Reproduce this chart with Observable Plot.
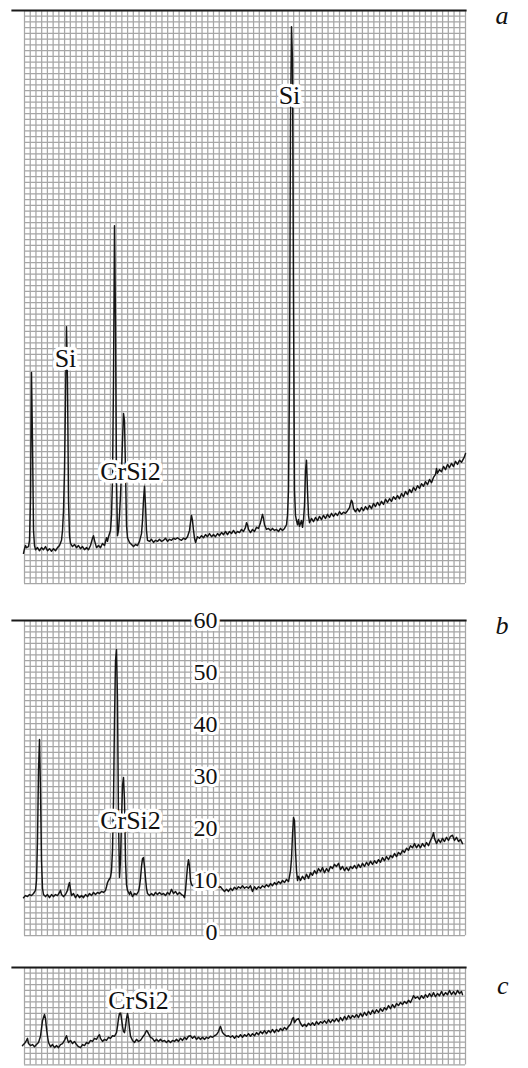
<!DOCTYPE html>
<html>
<head>
<meta charset="utf-8">
<script src="https://cdn.jsdelivr.net/npm/d3@7"></script>
<script src="https://cdn.jsdelivr.net/npm/@observablehq/plot@0.6"></script>
<style>
  html, body { margin: 0; padding: 0; background: #fff; }
  #wrap { position: relative; width: 528px; height: 1068px; overflow: hidden; }
  #wrap svg { position: absolute; left: 0; }
</style>
</head>
<body>
<div id="wrap"></div>
<script>
// x: channel (scan position along the recording, arbitrary units), value: intensity
const traceA = [[-1,5.8],[0,6.7],[1,7.3],[2,6.9],[4,7.1],[5,8.3],[6,16.0],[7,40.6],[8,27.5],[9,10.2],[10,7.3],[11,6.5],[13,6.9],[15,6.3],[17,6.9],[19,6.5],[21,7.1],[23,6.3],[25,6.7],[27,6.2],[29,6.7],[31,6.3],[33,6.9],[35,7.3],[37,8.3],[38,10.2],[39,14.0],[40,21.7],[41,35.2],[42,49.4],[43,39.0],[44,16.0],[45,9.2],[46,7.7],[48,7.1],[50,7.5],[52,6.9],[54,7.3],[56,6.7],[58,7.1],[60,6.5],[62,6.9],[64,6.5],[66,7.3],[68,8.7],[69,9.2],[70,8.3],[72,6.9],[74,7.3],[76,6.9],[78,7.7],[80,7.3],[82,8.8],[83,8.1],[84,9.0],[86,10.2],[87,13.1],[88,19.8],[89,39.0],[90,68.8],[91,50.6],[92,19.8],[93,9.2],[94,10.2],[95,13.1],[96,16.9],[97,21.7],[98,27.5],[99,32.7],[100,31.3],[101,21.7],[102,11.2],[103,8.8],[105,7.9],[107,7.5],[109,7.1],[111,7.5],[113,7.3],[115,8.1],[117,9.6],[118,12.1],[119,16.0],[120,18.7],[121,15.0],[122,10.2],[123,8.3],[125,8.1],[127,8.5],[129,7.9],[131,8.3],[133,8.1],[135,8.5],[137,8.1],[139,8.3],[141,8.7],[143,8.1],[145,8.5],[147,8.3],[149,8.7],[151,8.5],[153,8.8],[155,8.5],[157,8.3],[159,8.7],[161,8.5],[163,9.0],[165,10.2],[166,11.7],[167,13.1],[168,12.1],[169,10.2],[170,8.7],[171,7.9],[173,9.0],[175,8.7],[177,9.2],[179,8.8],[181,9.4],[183,9.0],[185,9.6],[187,9.0],[189,9.4],[191,9.0],[193,9.6],[195,9.2],[197,9.8],[199,9.4],[201,10.0],[203,9.4],[205,10.0],[207,9.6],[209,10.2],[211,9.6],[213,10.0],[215,9.8],[217,10.4],[219,10.0],[221,10.8],[222,11.7],[223,11.3],[224,10.4],[226,9.8],[228,10.4],[230,10.0],[232,10.8],[234,10.6],[236,11.7],[238,13.3],[239,12.5],[240,11.3],[242,10.4],[244,10.6],[246,10.2],[248,10.6],[250,10.2],[252,10.4],[254,10.0],[256,10.6],[258,10.2],[260,10.6],[262,11.3],[263,13.1],[264,17.9],[265,39.0],[266,89.0],[267,107.1],[268,100.6],[269,54.4],[270,17.9],[271,13.1],[272,12.1],[273,11.3],[274,12.3],[275,11.0],[277,12.1],[278,10.8],[279,12.3],[280,15.0],[281,21.7],[282,23.7],[283,17.9],[284,13.1],[285,11.7],[287,12.5],[289,11.9],[291,12.7],[293,12.1],[295,12.9],[297,12.3],[299,13.1],[301,12.5],[303,13.3],[305,12.7],[307,13.5],[309,12.9],[311,13.5],[313,13.1],[315,13.8],[317,13.3],[319,13.7],[321,13.5],[323,14.0],[325,14.6],[326,15.4],[327,16.0],[328,15.6],[329,14.4],[331,13.8],[333,14.4],[335,13.8],[337,14.6],[339,14.0],[341,14.8],[343,14.2],[345,15.0],[347,14.4],[349,15.4],[351,14.8],[353,15.6],[355,15.0],[357,15.8],[359,15.2],[361,16.2],[363,15.6],[365,16.3],[367,15.8],[369,16.7],[371,16.2],[373,16.9],[375,16.3],[377,17.3],[379,16.7],[381,17.7],[383,17.1],[385,18.1],[387,17.5],[389,18.5],[391,17.9],[393,18.8],[395,18.3],[397,19.2],[399,18.7],[401,19.6],[403,19.0],[405,20.0],[407,19.4],[409,20.4],[411,21.0],[412,22.1],[413,21.2],[415,21.9],[417,21.5],[419,22.5],[421,21.9],[423,22.9],[425,22.3],[427,23.1],[429,22.5],[431,23.5],[433,22.9],[435,23.7],[437,23.3],[439,24.0],[440,24.4],[441,25.0]];

const traceB = [[-1,6.7],[1,7.1],[3,6.9],[5,7.3],[7,7.1],[9,7.5],[11,8.1],[12,10.0],[13,17.7],[14,31.2],[15,37.1],[16,27.3],[17,13.8],[18,8.5],[19,7.3],[21,6.9],[23,7.3],[25,6.7],[27,7.3],[29,6.9],[31,7.3],[33,7.1],[35,7.7],[36,8.1],[37,7.3],[39,6.9],[41,7.3],[43,8.1],[44,9.0],[45,9.6],[46,8.3],[47,7.1],[49,7.5],[51,6.7],[53,7.3],[55,6.7],[57,7.1],[59,6.7],[61,7.3],[63,6.9],[65,7.5],[67,7.1],[69,7.7],[71,7.3],[73,7.7],[75,7.5],[77,7.9],[79,7.7],[81,8.1],[82,8.8],[83,9.6],[84,10.0],[86,10.6],[87,11.9],[88,15.8],[89,25.4],[90,40.8],[91,52.3],[92,54.4],[93,44.6],[94,21.5],[95,10.6],[96,13.8],[97,21.5],[98,28.3],[99,29.8],[100,25.4],[101,13.8],[102,9.2],[103,8.1],[105,7.3],[106,7.9],[108,6.9],[110,7.5],[112,7.3],[114,7.9],[115,8.8],[116,10.4],[117,12.7],[118,14.2],[119,14.4],[120,12.7],[121,10.4],[122,8.5],[123,7.5],[125,7.1],[127,7.5],[129,7.1],[131,7.7],[133,7.3],[135,7.7],[137,7.3],[139,7.5],[141,7.1],[143,7.7],[145,7.3],[147,8.3],[149,7.5],[151,7.9],[153,7.3],[155,7.7],[157,7.3],[159,7.1],[160,6.7],[161,8.1],[162,10.4],[163,12.7],[164,14.0],[165,12.7],[166,10.0],[167,9.2],[170,8.7],[174,8.8],[178,8.5],[182,8.8],[186,8.7],[190,9.0],[194,8.7],[196,8.8],[198,8.3],[200,7.9],[202,8.3],[204,7.9],[206,8.5],[208,8.1],[210,8.7],[212,8.3],[214,8.8],[216,8.5],[218,9.0],[220,8.5],[222,8.8],[224,8.5],[226,9.0],[228,7.9],[230,8.8],[232,8.3],[234,8.8],[236,8.5],[238,9.0],[240,8.7],[242,9.2],[244,8.8],[246,9.4],[248,9.0],[250,9.6],[252,9.2],[254,9.8],[256,9.4],[258,10.0],[260,9.6],[262,10.2],[264,9.8],[265,10.8],[266,11.9],[267,14.2],[268,18.7],[269,22.1],[270,21.5],[271,15.8],[272,11.9],[273,10.0],[274,10.8],[276,10.0],[278,10.8],[280,10.2],[282,11.2],[284,10.4],[286,11.5],[288,11.0],[290,11.9],[292,11.3],[294,12.3],[296,11.7],[298,12.5],[300,11.5],[302,12.3],[304,11.7],[306,12.7],[308,12.3],[310,13.1],[312,12.7],[314,13.3],[316,12.1],[318,12.7],[320,11.9],[322,12.5],[324,11.9],[326,12.7],[328,12.3],[330,12.9],[332,12.3],[334,13.1],[336,12.5],[338,13.3],[340,12.7],[342,13.5],[344,12.9],[346,13.7],[348,13.1],[350,13.8],[352,13.3],[354,14.0],[356,13.5],[358,14.4],[360,13.8],[362,14.6],[364,14.0],[366,14.8],[368,14.4],[370,15.2],[372,14.6],[374,15.4],[376,15.0],[378,15.8],[380,15.4],[382,16.2],[384,15.8],[386,16.7],[388,16.3],[390,17.1],[392,16.3],[394,16.9],[396,16.3],[398,17.1],[400,16.5],[402,17.3],[404,16.7],[406,17.7],[408,18.5],[409,19.2],[410,18.1],[412,17.1],[414,17.9],[416,17.3],[418,18.1],[420,17.5],[422,18.3],[424,17.7],[426,18.5],[428,18.7],[430,17.7],[432,18.3],[434,17.5],[436,17.9],[438,17.1]];

const traceC = [[-2,4.4],[0,4.8],[2,5.4],[3,5.8],[4,4.8],[6,4.4],[8,4.6],[10,4.2],[12,4.6],[14,5.0],[16,6.2],[17,7.7],[18,9.2],[20,10.4],[21,9.6],[22,7.7],[23,6.2],[24,5.0],[26,4.2],[28,4.6],[30,4.0],[32,4.4],[34,4.0],[36,4.6],[38,4.8],[40,5.4],[42,6.3],[43,5.6],[44,5.0],[46,5.4],[48,4.8],[50,5.2],[52,4.6],[54,4.2],[56,4.0],[58,4.6],[60,4.4],[62,5.0],[64,4.8],[66,5.4],[68,5.2],[70,5.8],[72,5.6],[74,6.3],[75,6.5],[76,5.8],[78,5.2],[80,5.6],[82,5.4],[84,6.0],[86,5.8],[88,6.3],[90,6.2],[92,6.9],[93,8.1],[94,9.6],[95,10.6],[96,10.8],[97,9.6],[98,8.1],[99,7.1],[100,6.9],[101,8.1],[102,9.6],[103,10.6],[104,9.6],[105,7.7],[106,6.2],[108,5.4],[110,5.0],[112,5.6],[114,5.2],[116,5.4],[118,6.0],[120,6.5],[122,7.3],[123,7.1],[124,6.7],[126,6.0],[128,5.8],[130,5.2],[132,5.6],[134,5.2],[136,5.6],[138,5.2],[140,5.4],[142,5.0],[144,5.4],[146,5.0],[148,5.4],[150,5.2],[152,5.6],[154,5.2],[156,5.8],[158,5.4],[160,6.0],[162,5.6],[164,6.2],[166,6.3],[168,5.8],[170,6.2],[172,5.6],[174,6.0],[176,5.6],[178,6.0],[180,5.6],[182,6.0],[184,5.8],[186,6.2],[188,6.0],[190,6.3],[192,6.5],[194,7.1],[195,7.7],[196,8.1],[197,7.5],[198,6.9],[200,6.5],[202,6.2],[204,6.3],[206,6.0],[208,6.3],[210,5.8],[212,6.3],[214,6.0],[216,6.5],[218,6.0],[220,6.5],[222,6.2],[224,6.7],[226,6.2],[228,6.7],[230,6.3],[232,6.9],[234,6.5],[236,7.1],[238,6.7],[240,7.3],[242,6.7],[244,7.3],[246,6.9],[248,7.5],[250,6.9],[252,7.5],[254,7.1],[256,7.7],[258,7.3],[260,7.9],[262,7.5],[264,8.1],[266,8.5],[268,9.6],[269,9.8],[270,8.8],[272,9.4],[274,9.6],[276,8.7],[278,8.1],[280,8.5],[282,8.1],[284,8.7],[286,8.3],[288,8.8],[290,8.3],[292,9.0],[294,8.5],[296,9.0],[298,8.7],[300,9.2],[302,8.7],[304,9.4],[306,8.8],[308,9.4],[310,9.0],[312,9.6],[314,9.0],[316,9.8],[318,9.2],[320,10.0],[322,9.4],[324,10.2],[326,9.6],[328,10.2],[330,9.8],[332,10.4],[334,9.8],[336,10.6],[338,10.0],[340,10.8],[342,10.2],[344,11.0],[346,10.4],[348,11.2],[350,10.6],[352,11.3],[354,10.8],[356,11.5],[358,11.0],[360,11.7],[362,11.3],[364,12.1],[366,11.5],[368,12.3],[370,11.7],[372,12.5],[374,12.1],[376,12.7],[378,12.3],[380,12.9],[382,12.5],[384,13.1],[386,12.7],[388,13.5],[389,14.0],[391,13.5],[393,13.8],[395,13.3],[397,14.0],[399,13.5],[401,14.2],[403,13.7],[405,14.4],[407,13.8],[409,14.6],[411,13.8],[413,14.4],[415,14.0],[417,14.8],[419,14.0],[421,14.6],[423,14.2],[425,15.0],[427,14.2],[429,14.8],[431,14.2],[433,15.0],[435,14.4],[437,14.8],[438,14.2]];

// peak annotations (label, channel, intensity at label centre)
const labelsA = [
  {text: "Si", x: 41, y: 43.3},
  {text: "CrSi2", x: 106, y: 21.5},
  {text: "Si", x: 265, y: 93.8}
];
const labelsB = [{text: "CrSi2", x: 106, y: 21.5}];
const labelsC = [{text: "CrSi2", x: 114, y: 13.1}];

// y tick labels of panel b
const ticksB = [0, 10, 20, 30, 40, 50, 60];
const panelNames = ["a", "b", "c"];

// chart-paper grid: 77 columns across the recording, 5.73 px cells
const chanMax = 441;
const cols = 77;
const cell = chanMax / cols;         // in channel units
const unitsPerCell = 1.102;          // intensity units per paper cell
const xGrid = d3.range(cols + 1).map(i => i * cell);

const serif = "'Liberation Serif', 'Times New Roman', Times, serif";
const gridStroke = "#a6a6a6";

function panel({trace, labels, name, yTop, yGrid, height, marginTop, marginBottom, top, nameDy, ticks}) {
  const yMin = d3.min(yGrid), yMax = d3.max(yGrid);
  const marks = [
    Plot.ruleX(xGrid, {y1: yMin, y2: yMax, stroke: gridStroke, strokeWidth: 1.25}),
    Plot.ruleY(yGrid, {x1: 0, x2: chanMax, stroke: gridStroke, strokeWidth: 1.25}),
    Plot.frame({anchor: "top", stroke: "#1a1a1a", strokeWidth: 2.2}),
    Plot.line(trace, {x: d => d[0], y: d => d[1], stroke: "#141414", strokeWidth: 1.45, strokeLinejoin: "round"}),
    Plot.text(labels, {x: "x", y: "y", text: "text", fontSize: 26, fontFamily: serif, fill: "#111",
      stroke: "white", strokeWidth: 7, paintOrder: "stroke", strokeLinejoin: "round"}),
    Plot.text([name], {text: d => d, frameAnchor: "top-right", dx: 43, dy: nameDy, lineAnchor: "bottom",
      fontSize: 26, fontStyle: "italic", fontFamily: serif, fill: "#111"})
  ];
  if (ticks) {
    marks.push(Plot.text(ticks, {y: d => d, text: d => String(d), frameAnchor: "left", dx: 205,
      textAnchor: "end", fontSize: 24, fontFamily: serif, fill: "#111",
      stroke: "white", strokeWidth: 6, paintOrder: "stroke", strokeLinejoin: "round"}));
  }
  const svg = Plot.plot({
    width: 528, height, marginLeft: 12, marginRight: 63, marginTop, marginBottom,
    x: {domain: [-12, chanMax], axis: null},
    y: {domain: [0, yTop], axis: null},
    style: {background: "transparent", overflow: "visible", fontFamily: serif},
    marks
  });
  svg.style.top = top + "px";
  return svg;
}

const wrap = document.getElementById("wrap");

// panel a: 100 paper cells tall
const yTopA = 100 * unitsPerCell;
wrap.appendChild(panel({
  trace: traceA, labels: labelsA, name: panelNames[0], yTop: yTopA,
  yGrid: d3.range(101).map(i => i * unitsPerCell),
  height: 595, marginTop: 10, marginBottom: 12, top: 0, nameDy: 13
}));

// panel b: calibrated 0..60
wrap.appendChild(panel({
  trace: traceB, labels: labelsB, name: panelNames[1], yTop: 60,
  yGrid: d3.range(56).map(i => 60 - i * unitsPerCell),
  height: 347, marginTop: 20, marginBottom: 15, top: 600, nameDy: 13, ticks: ticksB
}));

// panel c
const yTopC = 19.42;
wrap.appendChild(panel({
  trace: traceC, labels: labelsC, name: panelNames[2], yTop: yTopC,
  yGrid: d3.range(19).map(i => yTopC - i * unitsPerCell).filter(v => v >= -0.01),
  height: 118, marginTop: 17, marginBottom: 0, top: 950, nameDy: 26
}));
</script>
</body>
</html>
